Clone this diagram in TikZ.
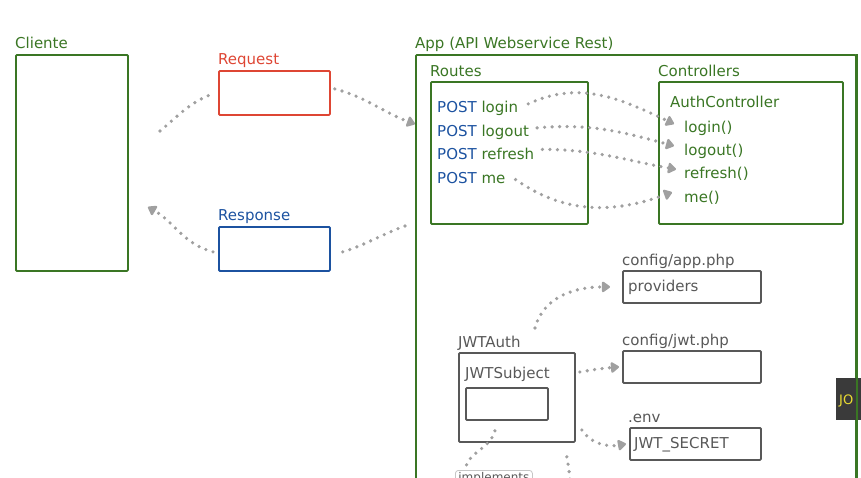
\documentclass[tikz,border=0pt]{standalone}
\usepackage{fontspec}
\setmainfont{DejaVu Sans}
\usepackage{xcolor}
\usetikzlibrary{positioning,arrows.meta}
\definecolor{sketch-green}{RGB}{58,118,36}
\definecolor{sketch-red}{RGB}{222,70,52}
\definecolor{sketch-blue}{RGB}{28,82,160}
\definecolor{sketch-gray}{RGB}{88,88,88}
\definecolor{dot-gray}{RGB}{160,160,160}
\definecolor{overlay-dark}{RGB}{58,58,58}
\definecolor{overlay-yellow}{RGB}{235,220,50}
\tikzset{
    sketch-box/.style = {rectangle, line width=1.8pt, rounded corners=1pt, anchor=north west, inner sep=0pt},
    green-box/.style = {sketch-box, draw=sketch-green},
    gray-box/.style = {sketch-box, draw=sketch-gray},
    box-title/.style = {anchor=base west, inner sep=0pt, font=\fontsize{15}{17}\selectfont},
    item-text/.style = {anchor=base west, inner sep=0pt, font=\fontsize{15}{17}\selectfont, text=sketch-green},
    dotted-link/.style = {draw=dot-gray, line width=3.6pt, line cap=round, dash pattern=on 0pt off 7.5pt},
    dotted-arrow/.style = {dotted-link, -{Triangle[width=12pt,length=9pt,round]}},
}

\begin{document}
\begin{tikzpicture}[x=1pt,y=-1pt]
\useasboundingbox (0,0) rectangle (861,477);
\clip (0,0) rectangle (861,477);
% client side
\node [green-box, minimum width=112pt, minimum height=216pt] (cliente) at (15,54) {};
\node [box-title, text=sketch-green] at ([yshift=6pt]cliente.north west) {Cliente};
\node [sketch-box, draw=sketch-red, minimum width=111pt, minimum height=44pt] (request) at (218,70) {};
\node [box-title, text=sketch-red] at ([yshift=6pt]request.north west) {Request};
\node [sketch-box, draw=sketch-blue, minimum width=111pt, minimum height=44pt] (response) at (218,226) {};
\node [box-title, text=sketch-blue] at ([yshift=6pt]response.north west) {Response};
% app
\node [green-box, minimum width=440pt, minimum height=440pt] (app) at (415,54) {};
\node [box-title, text=sketch-green] at ([yshift=6pt]app.north west) {App (API Webservice Rest)};
\node [green-box, minimum width=157pt, minimum height=142pt] (routes) at (430,81) {};
\node [box-title, text=sketch-green] at ([yshift=5pt]routes.north west) {Routes};
\node [green-box, minimum width=184pt, minimum height=142pt] (controllers) at (658,81) {};
\node [box-title, text=sketch-green] at ([yshift=5pt]controllers.north west) {Controllers};
\node [item-text] (r-login) at (437,112) {\textcolor{sketch-blue}{POST} login};
\node [item-text] (r-logout) at (437,136) {\textcolor{sketch-blue}{POST} logout};
\node [item-text] (r-refresh) at (437,159) {\textcolor{sketch-blue}{POST} refresh};
\node [item-text] (r-me) at (437,183) {\textcolor{sketch-blue}{POST} me};
\node [item-text] (auth) at (670,107) {AuthController};
\node [item-text] (c-login) at (684,132) {login()};
\node [item-text] (c-logout) at (684,155) {logout()};
\node [item-text] (c-refresh) at (684,178) {refresh()};
\node [item-text] (c-me) at (684,202) {me()};
% jwt part
\node [gray-box, minimum width=138pt, minimum height=32pt] (providers) at (622,270) {};
\node [box-title, text=sketch-gray] at ([yshift=5pt]providers.north west) {config/app.php};
\node [item-text, text=sketch-gray] at (628,291) {providers};
\node [gray-box, minimum width=138pt, minimum height=32pt] (jwt-config) at (622,350) {};
\node [box-title, text=sketch-gray] at ([yshift=5pt]jwt-config.north west) {config/jwt.php};
\node [gray-box, minimum width=131pt, minimum height=32pt] (secret) at (629,427) {};
\node [box-title, text=sketch-gray] at ([yshift=5pt,xshift=-1pt]secret.north west) {.env};
\node [item-text, text=sketch-gray] at (634,448) {JWT\_SECRET};
\node [gray-box, minimum width=116pt, minimum height=89pt] (jwtauth) at (458,352) {};
\node [box-title, text=sketch-gray] at ([yshift=5pt]jwtauth.north west) {JWTAuth};
\node [item-text, text=sketch-gray] at (465,378) {JWTSubject};
\node [gray-box, minimum width=82pt, minimum height=32pt] (subject) at (465,387) {};
\node [sketch-box, draw=dot-gray!60, line width=0.8pt, rounded corners=3pt, inner xsep=3pt, inner ysep=2pt, text=sketch-gray, font=\fontsize{12}{14}\selectfont] (implements) at (455,470) {implements};
% overlay
\fill [overlay-dark] (836,378) rectangle (870,420);
\node [anchor=base west, inner sep=0pt, text=overlay-yellow, font=\fontsize{13}{15}\selectfont] (overlay) at (839,404) {JO};
\draw [sketch-green, line width=1.8pt] (app.north east) -- (app.south east);
% links
\path [dotted-link] (160,131) to[out=40,in=200] ([xshift=-3pt]request.west);
\path [dotted-arrow] ([xshift=4pt,yshift=4pt]request.east) to[out=-15,in=160] ([yshift=-70pt]app.north west);
\path [dotted-link] ([xshift=-10pt,yshift=-172pt]app.north west) to[out=200,in=15] ([xshift=5pt,yshift=-5pt]response.east);
\path [dotted-arrow] ([xshift=-5pt,yshift=-3pt]response.west) to[out=165,in=-30] (148,207);
\path [dotted-arrow] ([xshift=10pt,yshift=4pt]r-login.east) to[out=25,in=155] ([xshift=-10pt,yshift=4pt]c-login.west);
\path [dotted-arrow] ([xshift=8pt,yshift=4pt]r-logout.east) to[out=5,in=165] ([xshift=-10pt,yshift=5pt]c-logout.west);
\path [dotted-arrow] ([xshift=8pt,yshift=4pt]r-refresh.east) to[out=0,in=170] ([xshift=-8pt,yshift=4pt]c-refresh.west);
\path [dotted-arrow] ([xshift=10pt,yshift=-2pt]r-me.east) to[out=-35,in=200] ([xshift=-12pt,yshift=5pt]c-me.west);
\path [dotted-arrow] ([xshift=77pt,yshift=24pt]jwtauth.north west) to[out=75,in=180] ([xshift=-12pt]providers.west);
\path [dotted-arrow] ([xshift=4pt,yshift=-20pt]jwtauth.north east) to[out=10,in=185] ([xshift=-3pt]jwt-config.west);
\path [dotted-arrow] ([xshift=6pt,yshift=-78pt]jwtauth.north east) to[out=-55,in=190] ([xshift=-3pt]secret.west);
\path [dotted-link] ([xshift=-12pt,yshift=-10pt]subject.south) to[out=-105,in=80] ([xshift=10pt]implements.north west);
\path [dotted-link] ([xshift=-9pt,yshift=-14pt]jwtauth.south east) to[out=-80,in=95] (570,480);
\end{tikzpicture}
\end{document}
